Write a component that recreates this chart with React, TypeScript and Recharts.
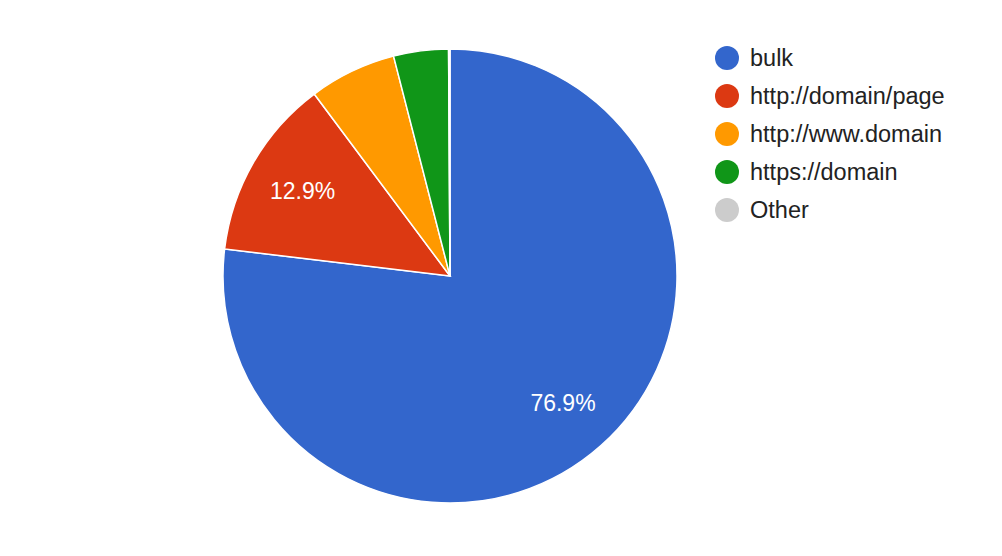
import React from 'react';
import { PieChart, Pie, Cell, Legend } from 'recharts';

const categories = ['bulk', 'http://domain/page', 'http://www.domain', 'https://domain', 'Other'];
const shares = [76.9, 12.9, 6.2, 3.9, 0.1];
const colors = ['#3366cc', '#dc3912', '#ff9900', '#109618', '#cccccc'];

const data = categories.map((name, i) => ({ name, value: shares[i] }));

const RADIAN = Math.PI / 180;

const renderLabel = (props: any) => {
  const { cx, cy, midAngle, outerRadius, percent } = props;
  if (percent < 0.1) return null;
  const r = outerRadius * 0.75;
  const x = cx + r * Math.cos(-midAngle * RADIAN);
  const y = cy + r * Math.sin(-midAngle * RADIAN);
  return (
    <text x={x} y={y} fill="#ffffff" fontSize={23} textAnchor="middle" dominantBaseline="central"
      fontFamily="'Liberation Sans', Arial, sans-serif">
      {(percent * 100).toFixed(1)}%
    </text>
  );
};

// legend in data order, not the sorted payload
const LegendList = () => (
  <div style={{ fontFamily: "'Liberation Sans', Arial, sans-serif" }}>
    {categories.map((name, i) => (
      <div key={`leg-${i}`} style={{ display: 'flex', alignItems: 'center', height: 38 }}>
        <span style={{ width: 24, height: 24, borderRadius: 12, background: colors[i], display: 'inline-block' }} />
        <span style={{ marginLeft: 11, fontSize: 23.5, color: '#222222' }}>{name}</span>
      </div>
    ))}
  </div>
);

export default function App() {
  return (
    <div style={{ position: 'absolute', left: 0, top: 0, width: 1002, height: 556, background: '#ffffff' }}>
      <PieChart width={1002} height={556} margin={{ top: 0, right: 0, bottom: 0, left: 0 }}>
        <Pie
          data={data}
          dataKey="value"
          nameKey="name"
          cx={450}
          cy={276}
          outerRadius={227}
          startAngle={90}
          endAngle={-270}
          stroke="#ffffff"
          strokeWidth={1.5}
          labelLine={false}
          label={renderLabel}
          isAnimationActive={false}
        >
          {data.map((entry, index) => (
            <Cell key={`cell-${index}`} fill={colors[index]} />
          ))}
        </Pie>
        <Legend
          layout="vertical"
          align="right"
          verticalAlign="top"
          content={<LegendList />}
          wrapperStyle={{ left: 715, top: 39, width: 280 }}
        />
      </PieChart>
    </div>
  );
}
